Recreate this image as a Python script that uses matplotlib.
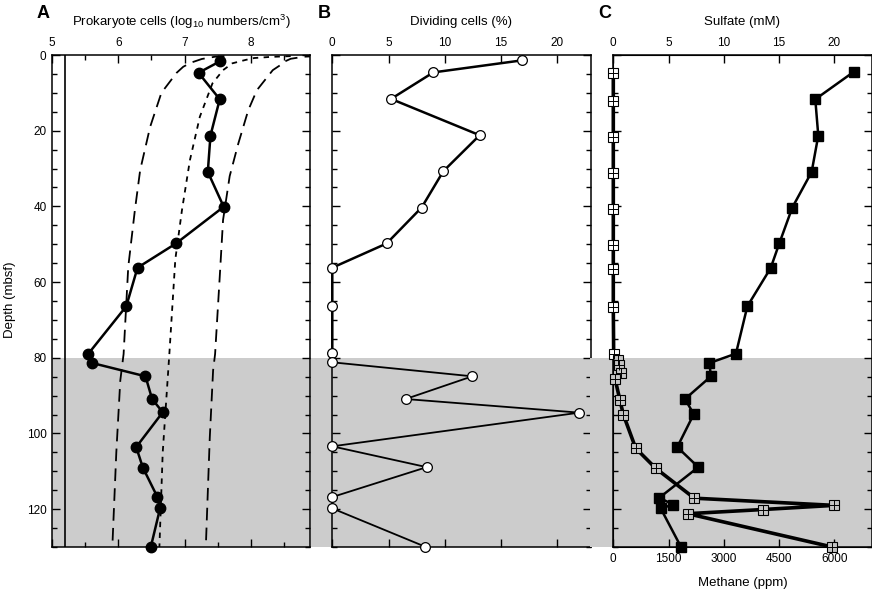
import matplotlib.pyplot as plt
from matplotlib.ticker import MultipleLocator

plt.rcParams['font.family'] = ['Liberation Sans', 'DejaVu Sans']
plt.rcParams['mathtext.fontset'] = 'custom'
plt.rcParams['mathtext.rm'] = 'Liberation Sans'
plt.rcParams['mathtext.default'] = 'rm'

# panel A - prokaryote cells (log10 /cm3)
cell_depth = [1.7, 4.7, 11.7, 21.3, 30.9, 40.1, 49.8, 56.2, 66.4, 78.9,
              81.4, 84.9, 90.9, 94.4, 103.6, 109.0, 116.8, 119.8, 130.0]
cell_log = [7.53, 7.21, 7.53, 7.39, 7.35, 7.59, 6.87, 6.29, 6.12, 5.55,
            5.61, 6.41, 6.51, 6.67, 6.27, 6.37, 6.59, 6.63, 6.49]

# general depth curve and its prediction limits
mid_depth = [0.3, 0.5, 0.8, 1.3, 2.2, 4, 7.5, 16.3, 27.8, 41, 54, 79, 105, 130]
mid_log = [8.6, 8.3, 8.05, 7.92, 7.72, 7.58, 7.42, 7.23, 7.08, 6.96, 6.86, 6.77, 6.67, 6.62]
upper_depth = [0.3, 0.45, 1.0, 1.8, 2.6, 4, 9.3, 14.6, 23.4, 32, 43.6, 58.6, 79, 83.3, 101, 130]
upper_log = [9.0, 8.8, 8.6, 8.5, 8.45, 8.33, 8.09, 7.96, 7.81, 7.68, 7.58, 7.53, 7.46, 7.43, 7.38, 7.32]
lower_depth = [0.3, 0.45, 1.05, 2, 3.1, 4.7, 10, 19, 30.4, 41, 56, 79, 86, 105, 130]
lower_log = [7.6, 7.46, 7.26, 7.1, 6.98, 6.88, 6.65, 6.48, 6.33, 6.25, 6.15, 6.08, 6.03, 5.97, 5.91]
detect_limit = 5.2

# panel B - dividing cells (%)
div_depth = [1.4, 4.6, 11.6, 21.2, 30.7, 40.3, 49.8, 56.2, 66.3, 78.7,
             81.2, 84.9, 90.9, 94.5, 103.4, 108.9, 116.8, 119.8, 129.9]
div_pct = [16.9, 8.98, 5.22, 13.1, 9.87, 7.94, 4.83, 0, 0, 0,
           0, 12.44, 6.52, 21.96, 0, 8.39, 0, 0, 8.24]

# panel C - sulfate (mM) and methane (ppm)
so4_depth = [4.4, 11.7, 21.3, 30.9, 40.3, 49.8, 56.3, 66.4, 78.9, 81.4,
             84.9, 90.9, 94.9, 103.6, 108.9, 117.0, 118.8, 119.8, 130.0]
so4 = [21.78, 18.28, 18.55, 17.95, 16.2, 15.02, 14.24, 12.13, 11.1, 8.69,
       8.84, 6.49, 7.28, 5.79, 7.69, 4.16, 5.43, 4.29, 6.13]
ch4_depth = [4.7, 12.1, 21.6, 31.1, 40.6, 50.1, 56.5, 66.7, 78.9, 80.5, 82.0,
             84.0, 85.7, 91.2, 95.0, 103.9, 109.2, 117.1, 119.0, 120.1, 121.2, 130.0]
ch4 = [0, 0, 0, 0, 0, 0, 0, 0, 10, 140, 160,
       220, 50, 180, 272, 608, 1151, 2199, 5992, 4056, 2020, 5946]

shade = '#cccccc'
fig = plt.figure(figsize=(8.72, 5.91), dpi=100)
W, H = 872, 591
bot, top = 547, 55
pw = 258.2

def px_axes(x0):
    return fig.add_axes([x0 / W, 1 - bot / H, pw / W, (bot - top) / H])

def style(ax):
    ax.set_ylim(130, 0)
    ax.yaxis.set_major_locator(MultipleLocator(20))
    ax.yaxis.set_minor_locator(MultipleLocator(5))
    ax.tick_params(which='both', direction='in', top=True, bottom=True,
                   left=True, right=True, labelsize=8.5, width=1)
    ax.tick_params(which='major', length=6, pad=4)
    ax.tick_params(which='minor', length=3.5)
    ax.tick_params(labelbottom=False, labeltop=True, labelleft=False)
    for s in ax.spines.values():
        s.set_linewidth(1.1)

axA = px_axes(52)
axB = px_axes(332.3)
axC = px_axes(613.3)

# ---- A
style(axA)
axA.tick_params(labelleft=True)
axA.set_xlim(5, 5 + pw / 66.3)
axA.set_xticks([5, 6, 7, 8])
axA.xaxis.set_minor_locator(MultipleLocator(0.5))
axA.axhspan(80, 130, color=shade, zorder=0, lw=0)
axA.axvline(detect_limit, color='black', lw=1.2)
axA.plot(upper_log, upper_depth, color='black', lw=1.3, dashes=(7, 4))
axA.plot(lower_log, lower_depth, color='black', lw=1.3, dashes=(7, 4))
axA.plot(mid_log, mid_depth, color='black', lw=1.3, dashes=(3, 3))
axA.plot(cell_log, cell_depth, '-o', color='black', lw=1.8, ms=7.5, clip_on=False, zorder=5)
fig.text(10 / W, 1 - 300 / H, 'Depth (mbsf)', rotation=90, ha='center', va='center', fontsize=9.5)
axA.text(0.5, 1.067, 'Prokaryote cells (log$_{10}$ numbers/cm$^3$)',
         transform=axA.transAxes, ha='center', va='center', fontsize=9.5)

# ---- B
style(axB)
axB.set_xlim(0, pw / 11.25)
axB.set_xticks([0, 5, 10, 15, 20])
axB.axhspan(80, 130, xmin=-21.3 / pw, xmax=1, color=shade, zorder=0, lw=0, clip_on=False)
axB.plot(div_pct[:10], div_depth[:10], '-', color='black', lw=1.8, clip_on=False, zorder=4)
axB.plot(div_pct[9:], div_depth[9:], '-', color='black', lw=1.3, clip_on=False, zorder=4)
axB.plot(div_pct, div_depth, 'o', mfc='white', mec='black', mew=0.9, ms=7,
         clip_on=False, zorder=5)
axB.text(0.5, 1.067, 'Dividing cells (%)', transform=axB.transAxes,
         ha='center', va='center', fontsize=9.5)

# ---- C
axM = axC.twiny()
style(axC)
axC.tick_params(bottom=False)
axC.xaxis.set_ticks_position('top')
axC.set_xlim(0, pw / 11.05)
axC.set_xticks([0, 5, 10, 15, 20])
axC.axhspan(80, 130, xmin=-23 / pw, xmax=1, color=shade, zorder=0, lw=0, clip_on=False)
axC.plot(so4, so4_depth, '-s', color='black', lw=1.8, ms=7, clip_on=False, zorder=5)
axC.text(0.5, 1.067, 'Sulfate (mM)', transform=axC.transAxes,
         ha='center', va='center', fontsize=9.5)

axM.set_xlim(0, pw / 11.05 * 300)
axM.set_ylim(130, 0)
axM.xaxis.set_ticks_position('bottom')
axM.set_xticks([0, 1500, 3000, 4500, 6000])
axM.tick_params(direction='in', length=6, width=1, labelsize=8.5, pad=4,
                labelbottom=True, labeltop=False)
axM.plot(ch4, ch4_depth, '-', color='black', lw=2.6, clip_on=False, zorder=3)
up = [i for i, d in enumerate(ch4_depth) if d < 80]
dn = [i for i, d in enumerate(ch4_depth) if d >= 80]
axM.plot([ch4[i] for i in up], [ch4_depth[i] for i in up], 's', mfc='white',
         mec='black', mew=0.8, ms=6.5, clip_on=False, zorder=4)
axM.plot([ch4[i] for i in dn], [ch4_depth[i] for i in dn], 's', mfc='#c4c4c4',
         mec='black', mew=0.8, ms=6.5, clip_on=False, zorder=4)
axM.plot(ch4, ch4_depth, '+', color='black', mew=0.7, ms=6.5, clip_on=False, zorder=6)
axM.text(0.5, -0.073, 'Methane (ppm)', transform=axM.transAxes,
         ha='center', va='center', fontsize=9.5)

for x, s in [(37, 'A'), (318, 'B'), (598, 'C')]:
    fig.text(x / W, 1 - 14 / H, s, fontsize=13, fontweight='bold', va='center', ha='left')

fig.savefig('out.png', dpi=100)
